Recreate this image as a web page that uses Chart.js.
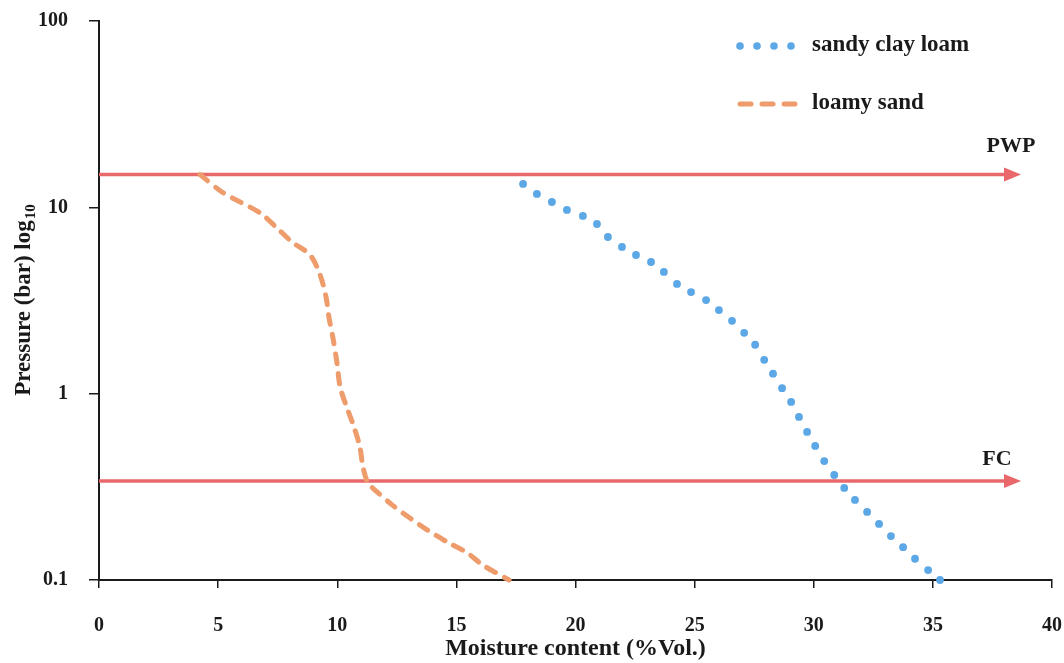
<!DOCTYPE html>
<html>
<head>
<meta charset="utf-8">
<title>Soil moisture retention</title>
<script src="https://cdn.jsdelivr.net/npm/chart.js@4.4.0/dist/chart.umd.min.js"></script>
<style>
  html, body { margin: 0; padding: 0; background: #fff; }
  #wrap { width: 1064px; height: 663px; }
</style>
</head>
<body>
<div id="wrap"><canvas id="chart" width="1064" height="663"></canvas></div>
<script>
// values
const yTickValues = [0.1, 1, 10, 100];
const yTickLabels = ['0.1', '1', '10', '100'];

const sandyClayLoamX = [17.80, 18.38, 19.01, 19.64, 20.31, 20.90, 21.36, 21.95, 22.54, 23.17,
  23.71, 24.26, 24.85, 25.48, 26.02, 26.57, 27.08, 27.54, 27.92, 28.29,
  28.67, 29.05, 29.38, 29.72, 30.06, 30.44, 30.86, 31.28, 31.73, 32.24,
  32.74, 33.24, 33.75, 34.25, 34.80, 35.30];
const sandyClayLoamY = [13.35, 11.80, 10.68, 9.68, 8.99, 8.14, 6.93, 6.13, 5.55, 5.09,
  4.50, 3.88, 3.51, 3.18, 2.81, 2.46, 2.12, 1.83, 1.52, 1.28,
  1.07, 0.903, 0.750, 0.623, 0.524, 0.435, 0.366, 0.312, 0.269, 0.232,
  0.200, 0.172, 0.150, 0.130, 0.113, 0.100];

const loamySandX = [4.24, 5.16, 5.92, 6.76, 7.47, 8.10, 8.86, 9.28, 9.53, 9.65,
  9.82, 9.99, 10.12, 10.41, 10.70, 10.95, 11.08, 11.29, 11.67, 12.30,
  13.05, 13.77, 14.61, 15.45, 16.12, 17.21];
const loamySandY = [15.0, 12.09, 10.69, 9.33, 7.75, 6.52, 5.55, 4.34, 3.30, 2.58,
  1.99, 1.46, 1.086, 0.838, 0.663, 0.518, 0.404, 0.332, 0.297, 0.253,
  0.215, 0.186, 0.160, 0.140, 0.120, 0.100];

const refNames = ['PWP', 'FC'];
const refPressure = [15, 0.34];
const refStartMoisture = 0;
const refEndMoisture = 38.7;

const serif = '"Liberation Serif", "Times New Roman", serif';
const ink = '#1a1a1a';
const blue = '#5ca7e6';
const orange = '#ee9c6b';
const red = '#e8686b';

const toPoints = (xs, ys) => xs.map((x, i) => ({ x: x, y: ys[i] }));

const refDatasets = refNames.map((name, i) => ({
  label: name,
  data: [{ x: refStartMoisture, y: refPressure[i] }, { x: refEndMoisture - 0.7, y: refPressure[i] }],
  borderColor: red,
  borderWidth: 3.5,
  pointRadius: 0,
  showLine: true,
  clip: false
}));

// arrow heads + PWP / FC labels
const refArrows = {
  id: 'refArrows',
  afterDatasetsDraw(chart) {
    const { ctx, scales: { x, y } } = chart;
    const tip = x.getPixelForValue(refEndMoisture);
    ctx.save();
    refNames.forEach((name, i) => {
      const py = y.getPixelForValue(refPressure[i]);
      ctx.fillStyle = red;
      ctx.beginPath();
      ctx.moveTo(tip, py);
      ctx.lineTo(tip - 17, py - 7);
      ctx.lineTo(tip - 17, py + 7);
      ctx.closePath();
      ctx.fill();

      ctx.fillStyle = ink;
      ctx.font = 'bold 22px ' + serif;
      ctx.textAlign = 'center';
      ctx.textBaseline = 'middle';
      if (i === 0) ctx.fillText(name, tip - 10, py - 28);
      else ctx.fillText(name, tip - 24, py - 22);
    });
    ctx.restore();
  }
};

// legend with dotted / dashed samples
const soilLegend = {
  id: 'soilLegend',
  afterDraw(chart) {
    const ctx = chart.ctx;
    ctx.save();
    ctx.fillStyle = blue;
    [740, 757, 774, 791].forEach(cx => {
      ctx.beginPath();
      ctx.arc(cx, 46, 3.8, 0, Math.PI * 2);
      ctx.fill();
    });
    ctx.strokeStyle = orange;
    ctx.lineWidth = 5;
    ctx.lineCap = 'round';
    [[740, 751], [762, 773], [784, 795]].forEach(([a, b]) => {
      ctx.beginPath();
      ctx.moveTo(a, 104);
      ctx.lineTo(b, 104);
      ctx.stroke();
    });
    ctx.fillStyle = ink;
    ctx.font = 'bold 23px ' + serif;
    ctx.textAlign = 'left';
    ctx.textBaseline = 'middle';
    ctx.fillText('sandy clay loam', 812, 45);
    ctx.fillText('loamy sand', 812, 103);
    ctx.restore();
  }
};

// y axis title with subscript
const yTitle = {
  id: 'yTitle',
  afterDraw(chart) {
    const { ctx, chartArea } = chart;
    const main = 'Pressure (bar) log';
    const sub = '10';
    ctx.save();
    ctx.font = 'bold 23px ' + serif;
    const w1 = ctx.measureText(main).width;
    ctx.font = 'bold 15px ' + serif;
    const w2 = ctx.measureText(sub).width;
    const cy = (chartArea.top + chartArea.bottom) / 2;
    ctx.translate(23, cy);
    ctx.rotate(-Math.PI / 2);
    ctx.fillStyle = ink;
    ctx.textBaseline = 'alphabetic';
    ctx.textAlign = 'left';
    const start = -(w1 + w2) / 2;
    ctx.font = 'bold 23px ' + serif;
    ctx.fillText(main, start, 7);
    ctx.font = 'bold 15px ' + serif;
    ctx.fillText(sub, start + w1 + 1, 12);
    ctx.restore();
  }
};

new Chart(document.getElementById('chart'), {
  type: 'scatter',
  data: {
    datasets: [
      {
        label: 'sandy clay loam',
        data: toPoints(sandyClayLoamX, sandyClayLoamY),
        showLine: false,
        pointRadius: 3.9,
        pointBackgroundColor: blue,
        pointBorderWidth: 0,
        clip: false
      },
      {
        label: 'loamy sand',
        data: toPoints(loamySandX, loamySandY),
        showLine: true,
        borderColor: orange,
        borderWidth: 5,
        borderDash: [10, 10],
        borderCapStyle: 'round',
        tension: 0.3,
        pointRadius: 0,
        clip: false
      },
      ...refDatasets
    ]
  },
  options: {
    responsive: false,
    animation: false,
    events: [],
    layout: { padding: { top: 21, right: 12, left: 0, bottom: 0 } },
    plugins: {
      legend: { display: false },
      tooltip: { enabled: false }
    },
    scales: {
      x: {
        type: 'linear',
        min: 0,
        max: 40,
        afterFit(scale) {
          scale.height = 83;
          scale.paddingLeft = 0;
          scale.paddingRight = 0;
        },
        ticks: {
          stepSize: 5,
          color: ink,
          padding: 26,
          maxRotation: 0,
          font: { family: serif, size: 20, weight: 'bold' }
        },
        grid: { drawOnChartArea: false, drawTicks: true, tickLength: 8, color: ink, lineWidth: 1.5 },
        border: { display: true, color: ink, width: 2 },
        title: {
          display: true,
          text: 'Moisture content (%Vol.)',
          color: ink,
          padding: { top: 0, bottom: 0 },
          font: { family: serif, size: 24, weight: 'bold' }
        }
      },
      y: {
        type: 'logarithmic',
        min: 0.1,
        max: 100,
        afterFit(scale) {
          scale.width = 99;
          scale.paddingTop = 0;
          scale.paddingBottom = 0;
        },
        afterBuildTicks(scale) {
          scale.ticks = yTickValues.map(v => ({ value: v }));
        },
        ticks: {
          color: ink,
          padding: 21,
          font: { family: serif, size: 20, weight: 'bold' },
          callback: (value) => {
            const i = yTickValues.indexOf(value);
            return i >= 0 ? yTickLabels[i] : '';
          }
        },
        grid: { drawOnChartArea: false, drawTicks: true, tickLength: 10, color: ink, lineWidth: 1.5 },
        border: { display: true, color: ink, width: 2 }
      }
    }
  },
  plugins: [refArrows, soilLegend, yTitle]
});
</script>
</body>
</html>
